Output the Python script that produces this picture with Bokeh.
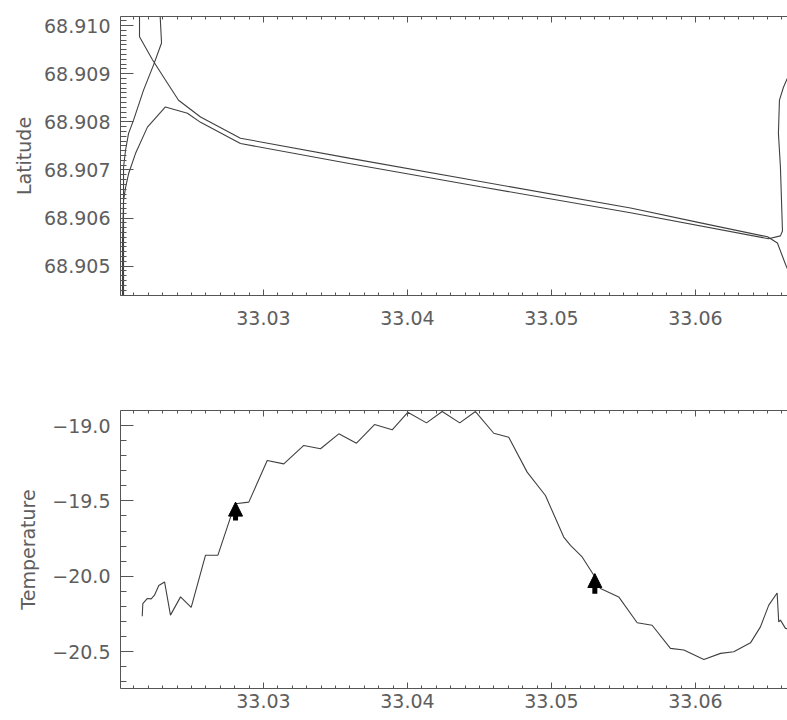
import numpy as np
from bokeh.plotting import figure
from bokeh.layouts import column
from bokeh.models import (Range1d, LinearAxis, FixedTicker, PrintfTickFormatter,
                          CustomJSTickFormatter, Arrow, NormalHead, ColumnDataSource)
from bokeh.embed import file_html
from bokeh.resources import INLINE

# ---------------- data ----------------
# GPS track (longitude / latitude)
track_lon = [
    33.02028, 33.02028, 33.02028, 33.02028, 33.02042, 33.02063, 33.02097, 33.02167,
    33.02236, 33.02292, 33.02278,
    33.02139, 33.02139, 33.02229, 33.02319, 33.02410, 33.02563, 33.02840, 33.03604,
    33.04507, 33.05549, 33.06035, 33.06500, 33.06569, 33.06625, 33.06660, 33.06729,
    33.06694, 33.06611, 33.06583, 33.06576, 33.06590, 33.06604, 33.06590, 33.06507,
    33.05549, 33.04507, 33.03604, 33.02840, 33.02563, 33.02472, 33.02319, 33.02194,
    33.02111, 33.02063, 33.02042, 33.02028, 33.02021, 33.02021,
]
track_lat = [
    68.90420, 68.90531, 68.90636, 68.90705, 68.90741, 68.90776, 68.90803, 68.90866,
    68.90918, 68.90964, 68.91045,
    68.91045, 68.90977, 68.90929, 68.90887, 68.90845, 68.90810, 68.90766, 68.90724,
    68.90676, 68.90621, 68.90590, 68.90561, 68.90548, 68.90504, 68.90479, 68.90420,
    68.90929, 68.90872, 68.90845, 68.90776, 68.90705, 68.90573, 68.90563, 68.90557,
    68.90611, 68.90665, 68.90713, 68.90755, 68.90799, 68.90818, 68.90831, 68.90789,
    68.90734, 68.90692, 68.90663, 68.90636, 68.90552, 68.90420,
]

# Temperature along longitude
temp_lon = [
    33.02158, 33.02162, 33.02192, 33.02220, 33.02243, 33.02273, 33.02313, 33.02354,
    33.02424, 33.02498, 33.02597, 33.02683, 33.02783, 33.02806, 33.02898, 33.03026,
    33.03141, 33.03280, 33.03396, 33.03523, 33.03646, 33.03771, 33.03894, 33.04002,
    33.04132, 33.04241, 33.04363, 33.04472, 33.04599, 33.04703, 33.04831, 33.04958,
    33.05085, 33.05132, 33.05213, 33.05294, 33.05340, 33.05467, 33.05595, 33.05699,
    33.05826, 33.05919, 33.06058, 33.06174, 33.06266, 33.06382, 33.06451, 33.06509,
    33.06567, 33.06578, 33.06590, 33.06625, 33.06660,
]
temp_val = [
    -20.265, -20.181, -20.148, -20.150, -20.126, -20.062, -20.038, -20.258,
    -20.137, -20.207, -19.861, -19.861, -19.574, -19.519, -19.508, -19.232,
    -19.254, -19.132, -19.154, -19.055, -19.117, -18.993, -19.028, -18.912,
    -18.982, -18.907, -18.982, -18.907, -19.051, -19.077, -19.309, -19.464,
    -19.740, -19.795, -19.872, -19.993, -20.081, -20.137, -20.309, -20.325,
    -20.479, -20.490, -20.552, -20.512, -20.501, -20.442, -20.336, -20.192,
    -20.111, -20.303, -20.291, -20.346, -20.351,
]

# arrow markers (longitude, tail value, tip value)
arrow_lon = [33.02806, 33.05301]
arrow_tail = [-19.630, -20.116]
arrow_tip = [-19.508, -19.982]

# ticks
lon_ticks = [33.03, 33.04, 33.05, 33.06]
lat_ticks = [68.905, 68.906, 68.907, 68.908, 68.909, 68.910]
temp_ticks = [-20.5, -20.0, -19.5, -19.0]

# ---------------- style ----------------
FONT = "DejaVu Sans"
TXT = "#5e5e5e"
AXC = "#555555"
LINEC = "#404040"
W = 787
LON_RANGE = (33.02007, 33.06639)


def minor_from(ticks, n):
    step = (ticks[1] - ticks[0]) / n
    return list(np.arange(ticks[0] - 2 * (ticks[1] - ticks[0]),
                          ticks[-1] + 2 * (ticks[1] - ticks[0]) + step / 2, step))


def style(ax, tin, tmin):
    ax.major_tick_in = tin
    ax.major_tick_out = 0
    ax.minor_tick_in = tmin
    ax.minor_tick_out = 0
    ax.axis_line_color = AXC
    ax.major_tick_line_color = AXC
    ax.minor_tick_line_color = AXC
    ax.axis_line_width = 1
    ax.major_label_text_font = FONT
    ax.major_label_text_color = TXT
    ax.major_label_text_font_size = "19px"
    ax.axis_label_text_font = FONT
    ax.axis_label_text_color = TXT
    ax.axis_label_text_font_size = "19px"
    ax.axis_label_text_font_style = "normal"


def base(height, ylo, yhi, top_border, bottom_border):
    p = figure(width=W, height=height, output_backend="svg", toolbar_location=None,
               x_range=Range1d(*LON_RANGE), y_range=Range1d(ylo, yhi),
               x_axis_location=None, y_axis_location=None,
               min_border_left=120, min_border_right=0,
               min_border_top=top_border, min_border_bottom=bottom_border)
    p.outline_line_color = None
    p.grid.visible = False
    p.background_fill_color = "white"
    p.border_fill_color = "white"
    return p


def top_axis(p, ticker):
    ax = LinearAxis(ticker=ticker, formatter=CustomJSTickFormatter(code="return '';"))
    style(ax, 6, 3)
    ax.major_label_standoff = 0
    ax.major_label_text_font_size = "1px"
    p.add_layout(ax, "above")


lon_ticker = FixedTicker(ticks=lon_ticks, minor_ticks=minor_from(lon_ticks, 10))

# ---------------- top: latitude ----------------
p1 = base(342, 68.90439, 68.91019, 16, 47)
lat_ticker = FixedTicker(ticks=lat_ticks, minor_ticks=minor_from(lat_ticks, 10))

ax_b = LinearAxis(ticker=lon_ticker, formatter=PrintfTickFormatter(format="%.2f"))
style(ax_b, 6, 3)
ax_b.major_label_standoff = 15
p1.add_layout(ax_b, "below")
top_axis(p1, lon_ticker)

ax_l = LinearAxis(ticker=lat_ticker, formatter=PrintfTickFormatter(format="%.3f"),
                  axis_label="Latitude")
style(ax_l, 13, 6)
ax_l.major_label_standoff = 10
ax_l.axis_label_standoff = 6
p1.add_layout(ax_l, "left")

p1.line(track_lon, track_lat, line_color=LINEC, line_width=1.1)

# ---------------- bottom: temperature ----------------
p2 = base(378, -20.745, -18.90, 68, 32)
temp_ticker = FixedTicker(ticks=temp_ticks, minor_ticks=minor_from(temp_ticks, 5))
minus_fmt = CustomJSTickFormatter(code="return tick.toFixed(1).replace('-', '\\u2212');")

bx_b = LinearAxis(ticker=lon_ticker, formatter=PrintfTickFormatter(format="%.2f"))
style(bx_b, 6, 3)
bx_b.major_label_standoff = 5
p2.add_layout(bx_b, "below")
top_axis(p2, lon_ticker)

bx_l = LinearAxis(ticker=temp_ticker, formatter=minus_fmt, axis_label="Temperature")
style(bx_l, 13, 6)
bx_l.major_label_standoff = 10
bx_l.axis_label_standoff = 10
p2.add_layout(bx_l, "left")

p2.line(temp_lon, temp_val, line_color=LINEC, line_width=1.1)

arr_src = ColumnDataSource(dict(x=arrow_lon, y0=arrow_tail, y1=arrow_tip))
p2.add_layout(Arrow(end=NormalHead(size=14, fill_color="black", line_color="black"),
                    x_start="x", y_start="y0", x_end="x", y_end="y1",
                    source=arr_src, line_color="black", line_width=5))

layout = column(p1, p2)
open("out.html", "w").write(file_html(layout, INLINE))
